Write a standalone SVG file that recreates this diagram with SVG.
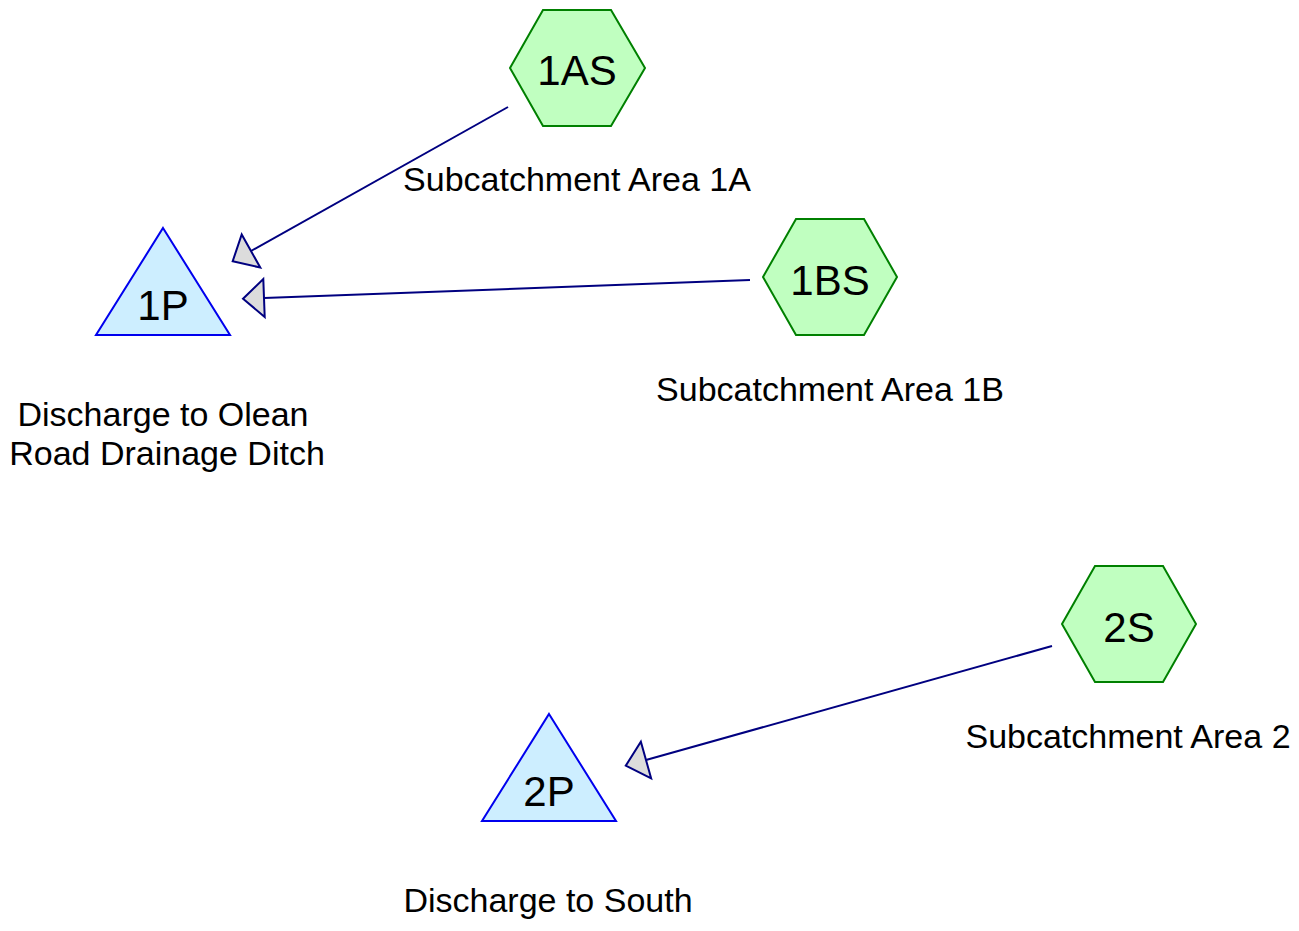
<svg xmlns="http://www.w3.org/2000/svg" width="1299" height="931" viewBox="0 0 1299 931">
  <style>
    .sub { fill: #c0ffc0; stroke: #008000; stroke-width: 2; }
    .pond { fill: #cdeeff; stroke: #0000ee; stroke-width: 2; }
    .id { font-family: "Liberation Sans", Arial, sans-serif; font-size: 42px; fill: #000; text-anchor: middle; }
    .lbl { font-family: "Liberation Sans", Arial, sans-serif; font-size: 34px; fill: #000; text-anchor: middle; }
    .link { stroke: #000080; stroke-width: 2; fill: none; }
  </style>
  <defs>
    <marker id="head" markerUnits="userSpaceOnUse" markerWidth="26" markerHeight="46" viewBox="-2 -22 26 44" refX="0" refY="0" orient="auto">
      <path d="M0,-19 L21,0 L0,19 Z" fill="#dcdcdc" stroke="#000080" stroke-width="2" stroke-linejoin="miter"/>
    </marker>
  </defs>
  <rect width="1299" height="931" fill="#ffffff"/>

  <g id="connectors">
    <line class="link" x1="508" y1="107" x2="251" y2="251" marker-end="url(#head)"/>
    <line class="link" x1="750" y1="280" x2="264" y2="298" marker-end="url(#head)"/>
    <line class="link" x1="1052" y1="646" x2="646" y2="760" marker-end="url(#head)"/>
  </g>

  <g id="node-1AS">
    <polygon class="sub" points="510,68 543,10 611,10 645,68 611,126 543,126"/>
    <text class="id" x="577" y="85">1AS</text>
    <text class="lbl" x="577" y="191">Subcatchment Area 1A</text>
  </g>

  <g id="node-1BS">
    <polygon class="sub" points="763,277 796,219 864,219 897,277 864,335 796,335"/>
    <text class="id" x="830" y="295">1BS</text>
    <text class="lbl" x="830" y="401">Subcatchment Area 1B</text>
  </g>

  <g id="node-2S">
    <polygon class="sub" points="1062,624 1095,566 1163,566 1196,624 1163,682 1095,682"/>
    <text class="id" x="1129" y="642">2S</text>
    <text class="lbl" x="1128" y="748">Subcatchment Area 2</text>
  </g>

  <g id="node-1P">
    <polygon class="pond" points="163,228 230,335 96,335"/>
    <text class="id" x="163" y="320">1P</text>
    <text class="lbl" x="163" y="426">Discharge to Olean</text>
    <text class="lbl" x="167" y="465">Road Drainage Ditch</text>
  </g>

  <g id="node-2P">
    <polygon class="pond" points="549,714 616,821 482,821"/>
    <text class="id" x="549" y="806">2P</text>
    <text class="lbl" x="548" y="912">Discharge to South</text>
  </g>
</svg>
